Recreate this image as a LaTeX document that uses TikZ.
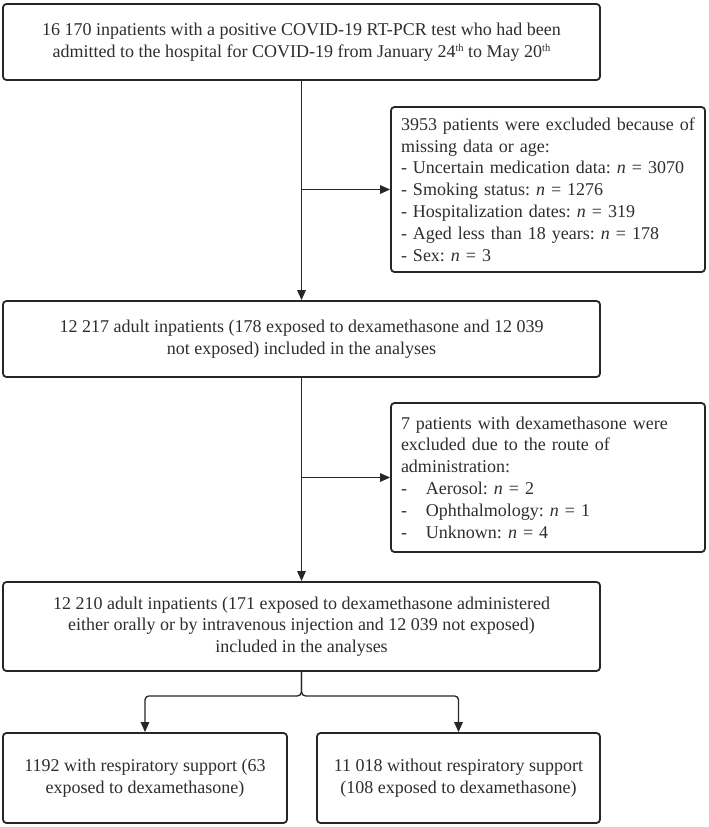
\documentclass[tikz,border=0pt]{standalone}
\usepackage{fontspec}
\setmainfont{Liberation Serif}
\usetikzlibrary{arrows.meta}
\definecolor{ln}{HTML}{262626}
\definecolor{tx}{HTML}{2E2E2E}
\newcommand{\nn}{{\itshape n}}
\newcommand{\thsup}{\raisebox{5.5pt}{\fontsize{10.5}{10.5}\selectfont th}}
\tikzset{
  box/.style={draw=ln, line width=1.8pt, rounded corners=3.5pt, fill=white,
    inner sep=0pt, text=tx, font=\fontsize{18}{21.8}\selectfont\frenchspacing},
  cbox/.style={box, align=center},
  lbox/.style={box, align=left, text width=294pt, inner xsep=10pt},
  arr/.style={draw=ln, line width=1.3pt, -{Triangle[length=10pt,width=8.5pt]}}
}
\begin{document}
\begin{tikzpicture}[x=1pt,y=-1pt]
\useasboundingbox (0,0) rectangle (709,827);
\node[cbox, minimum width=597pt, minimum height=76pt] (b1) at (301.5,42)
  {16 170 inpatients with a positive COVID-19 RT-PCR test who had been\\
   admitted to the hospital for COVID-19 from January 24\thsup{} to May 20\thsup};
\node[lbox, minimum width=314pt, minimum height=165pt] (b2) at (548,189.5)
  {3953 patients were excluded because of\\
   missing data or age:\\
   - Uncertain medication data: \nn{} = 3070\\
   - Smoking status: \nn{} = 1276\\
   - Hospitalization dates: \nn{} = 319\\
   - Aged less than 18 years: \nn{} = 178\\
   - Sex: \nn{} = 3};
\node[cbox, minimum width=597pt, minimum height=76pt] (b3) at (301.5,339)
  {12 217 adult inpatients (178 exposed to dexamethasone and 12 039\\
   not exposed) included in the analyses};
\node[lbox, minimum width=314pt, minimum height=149pt] (b4) at (548,477.5)
  {7 patients with dexamethasone were\\
   excluded due to the route of\\
   administration:\\
   \makebox[25pt][l]{-}Aerosol: \nn{} = 2\\
   \makebox[25pt][l]{-}Ophthalmology: \nn{} = 1\\
   \makebox[25pt][l]{-}Unknown: \nn{} = 4};
\node[cbox, minimum width=597pt, minimum height=89pt] (b5) at (301.5,626.5)
  {12 210 adult inpatients (171 exposed to dexamethasone administered\\
   either orally or by intravenous injection and 12 039 not exposed)\\
   included in the analyses};
\node[cbox, minimum width=284pt, minimum height=90pt] (b6) at (145,778)
  {1192 with respiratory support (63\\
   exposed to dexamethasone)};
\node[cbox, minimum width=283pt, minimum height=90pt] (b7) at (458.5,778)
  {11 018 without respiratory support\\
   (108 exposed to dexamethasone)};
% main flow
\draw[arr] (b1.south) -- (b3.north);
\draw[arr] (b1.south |- b2.west) -- (b2.west);
\draw[arr] (b3.south) -- (b5.north);
\draw[arr] (b3.south |- b4.west) -- (b4.west);
% branch
\coordinate (br) at ([yshift=-24pt]b5.south);
\draw[arr, rounded corners=4pt] (b5.south) -- (br) -| (b6.north);
\draw[arr, rounded corners=4pt] (b5.south) -- (br) -| (b7.north);
\end{tikzpicture}
\end{document}
